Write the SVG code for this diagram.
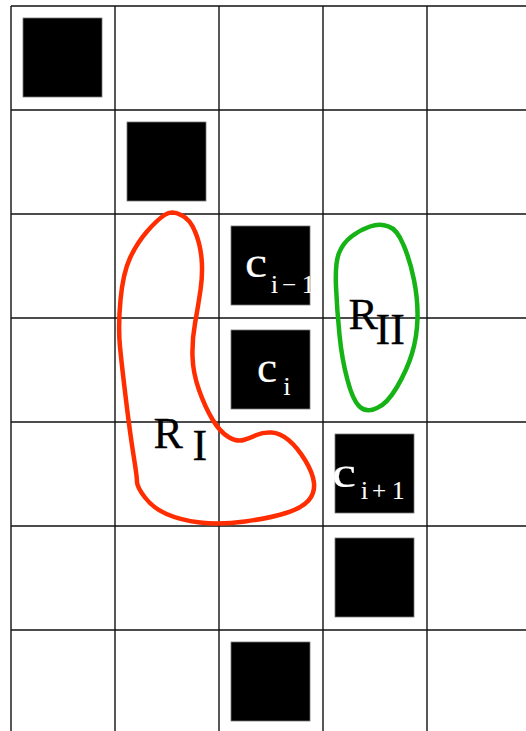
<svg xmlns="http://www.w3.org/2000/svg" width="526" height="731" viewBox="0 0 526 731">
<style>
.grid line{stroke:#111;stroke-width:1.4}
.sq{fill:#000;stroke:#777;stroke-width:0.8}
.w{fill:#fff;stroke:#fff;stroke-width:0.15;font-family:"Liberation Serif","Times New Roman",serif}
.k{fill:#000;stroke:#000;stroke-width:0.3;font-family:"Liberation Serif","Times New Roman",serif;font-size:44px}
.c{font-size:44px}
.s{font-size:25px}
</style>
<rect width="526" height="731" fill="#fff"/>
<g id="grid" class="grid">
<line x1="11" y1="6" x2="11" y2="731"/>
<line x1="115" y1="6" x2="115" y2="731"/>
<line x1="219" y1="6" x2="219" y2="731"/>
<line x1="323" y1="6" x2="323" y2="731"/>
<line x1="427" y1="6" x2="427" y2="731"/>
<line x1="11" y1="6" x2="526" y2="6"/>
<line x1="11" y1="110" x2="526" y2="110"/>
<line x1="11" y1="214" x2="526" y2="214"/>
<line x1="11" y1="318" x2="526" y2="318"/>
<line x1="11" y1="422" x2="526" y2="422"/>
<line x1="11" y1="526" x2="526" y2="526"/>
<line x1="11" y1="630" x2="526" y2="630"/>
</g>
<g id="block-a"><rect class="sq" x="23" y="18" width="79" height="79"/></g>
<g id="block-b"><rect class="sq" x="127" y="122" width="79" height="79"/></g>
<g id="c-im1"><rect class="sq" x="231" y="226" width="79" height="79"/>
<text class="w c" x="245" y="277" textLength="22" lengthAdjust="spacingAndGlyphs">c</text>
<text class="w s" x="271" y="292.5">i</text><text class="w s" x="282" y="292.5">−</text><text class="w s" x="302" y="292.5">1</text></g>
<g id="c-i"><rect class="sq" x="231" y="330" width="79" height="79"/>
<text class="w c" x="257" y="381.5" textLength="20" lengthAdjust="spacingAndGlyphs">c</text>
<text class="w s" x="283.5" y="395">i</text></g>
<g id="c-ip1"><rect class="sq" x="335" y="434" width="79" height="79"/>
<text class="w c" x="332" y="486.5" textLength="24" lengthAdjust="spacingAndGlyphs">c</text>
<text class="w s" x="361" y="499">i</text><text class="w s" x="372" y="499">+</text><text class="w s" x="392" y="499">1</text></g>
<g id="block-f"><rect class="sq" x="335" y="538" width="79" height="79"/></g>
<g id="block-g"><rect class="sq" x="231" y="642" width="79" height="79"/></g>
<g id="region-I">
<path d="M 181,215 Q 190,219 195,231.5 Q 200,243 201.5,258 Q 203,273 200.5,290 Q 198,307 195,323.5 Q 192,340 192.5,356.5 Q 193,373 199,390 Q 205,407 212.5,419.5 Q 220,432 228.5,437 Q 237,442 243.5,440 Q 250,438 256.5,435 Q 263,432 271.5,432.5 Q 280,433 288.5,440 Q 297,447 305,460 Q 313,473 314,483 Q 315,493 308.5,500.5 Q 302,508 286,513 Q 270,518 245,521.5 Q 220,525 200,522.5 Q 180,520 166.5,514 Q 153,508 145,497.5 Q 137,487 137,482 Q 137,477 133.5,455 Q 130,433 126,400 Q 122,367 120,347 Q 118,327 120.5,300 Q 123,273 130,258 Q 137,243 147,231.5 Q 157,220 164.5,215 Q 172,210 181,215 Z" fill="none" stroke="#ff2d00" stroke-width="4.5"/>
<text class="k" x="153.5" y="448">R</text><text class="k" x="192.5" y="459.5">I</text>
</g>
<g id="region-II">
<path d="M 388.5,226.5 Q 397,229 403.5,245 Q 410,260 414,280 Q 418,300 417.5,318.5 Q 417,337 412,353.5 Q 407,370 397,387 Q 387,404 377,408 Q 367,413 360,407 Q 353,401 347.5,380 Q 342,360 339.5,335 Q 337,310 336,286.5 Q 335,263 339,253 Q 343,243 351.5,236.5 Q 360,230 370,226.5 Q 380,223 388.5,226.5 Z" fill="none" stroke="#16b316" stroke-width="4.5"/>
<text class="k" x="348.5" y="328.5">R</text><text class="k" x="375.5" y="343.5">II</text>
</g>
</svg>
